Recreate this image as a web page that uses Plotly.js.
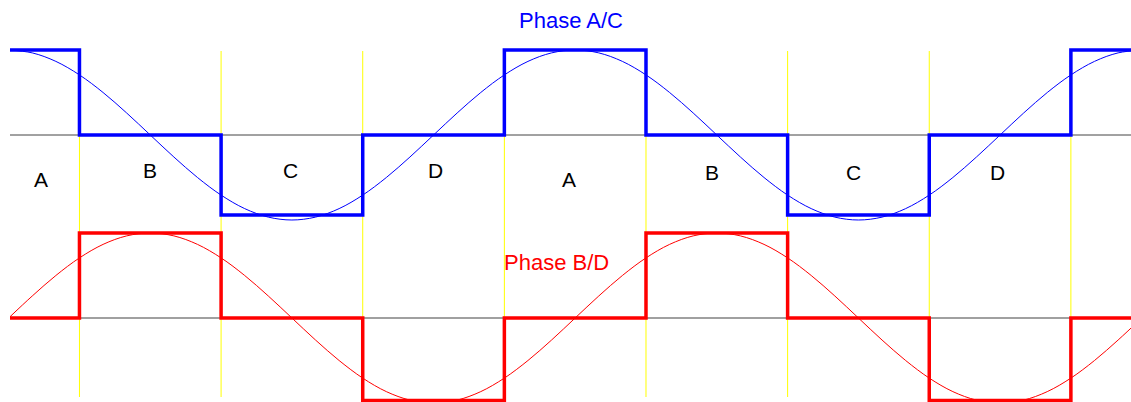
<!DOCTYPE html>
<html>
<head>
<meta charset="utf-8">
<script src="https://cdn.plot.ly/plotly-3.0.1.min.js"></script>
<style>html,body{margin:0;padding:0;background:#fff;}#chart{width:1131px;height:402px;}</style>
</head>
<body>
<div id="chart"></div>
<script>
// Phase angle samples (degrees) for the smooth reference curves
var angles = [0,15,30,45,60,75,90,105,120,135,150,165,180,195,210,225,240,255,270,285,300,315,330,345,360,
              375,390,405,420,435,450,465,480,495,510,525,540,555,570,585,600,615,630,645,660,675,690,705,720];
// Phase A/C smooth curve (normalised to peak = 1)
var curveAC = [1,0.966,0.866,0.707,0.5,0.259,0,-0.259,-0.5,-0.707,-0.866,-0.966,-1,-0.966,-0.866,-0.707,-0.5,-0.259,0,0.259,0.5,0.707,0.866,0.966,1,
               0.966,0.866,0.707,0.5,0.259,0,-0.259,-0.5,-0.707,-0.866,-0.966,-1,-0.966,-0.866,-0.707,-0.5,-0.259,0,0.259,0.5,0.707,0.866,0.966,1];
// Phase B/D smooth curve
var curveBD = [0,0.259,0.5,0.707,0.866,0.966,1,0.966,0.866,0.707,0.5,0.259,0,-0.259,-0.5,-0.707,-0.866,-0.966,-1,-0.966,-0.866,-0.707,-0.5,-0.259,0,
               0.259,0.5,0.707,0.866,0.966,1,0.966,0.866,0.707,0.5,0.259,0,-0.259,-0.5,-0.707,-0.866,-0.966,-1,-0.966,-0.866,-0.707,-0.5,-0.259,0];
// Step boundaries (degrees) and drive levels
var stepAngles = [0,45,135,225,315,405,495,585,675,720];
var driveAC = [1,0,-0.94,0,1,0,-0.94,0,1,1];
var driveBD = [0,1,0,-0.97,0,1,0,-0.97,0,0];
// Sector boundaries (yellow lines)
var sectorBounds = [45,135,225,315,405,495,585,675];
// Sector labels
var sectorLabels = ['A','B','C','D','A','B','C','D'];
var sectorLabelX = [20.6,89.8,179.2,271.1,356.1,447.2,536.6,628.5];
var phaseTitles = ['Phase A/C','Phase B/D'];

// layout placement (not data)
var PX = 85;                 // pixels per unit
var BASE_AC = 0;
var BASE_BD = -(318-135)/PX;
function yFromPx(p){ return (135-p)/PX; }
var sectorLabelYpx = [179,170.5,170.5,170.5,179,172,172,172];

function off(arr, b){ return arr.map(function(v){return v+b;}); }

var traces = [
  {x: angles, y: off(curveAC, BASE_AC), mode:'lines', line:{color:'#0000ff', width:1, shape:'spline', smoothing:1}, hoverinfo:'skip'},
  {x: stepAngles, y: off(driveAC, BASE_AC), mode:'lines', line:{color:'#0000ff', width:3.5, shape:'hv'}, hoverinfo:'skip'},
  {x: angles, y: off(curveBD, BASE_BD), mode:'lines', line:{color:'#ff0000', width:1, shape:'spline', smoothing:1}, hoverinfo:'skip'},
  {x: stepAngles, y: off(driveBD, BASE_BD), mode:'lines', line:{color:'#ff0000', width:3.5, shape:'hv'}, hoverinfo:'skip'}
];

var shapes = [];
sectorBounds.forEach(function(b){
  shapes.push({type:'line', layer:'below', xref:'x', yref:'y', x0:b, x1:b, y0:yFromPx(51), y1:yFromPx(397), line:{color:'#ffff00', width:1}});
});
shapes.push({type:'line', layer:'below', xref:'paper', yref:'y', x0:0, x1:1, y0:BASE_AC, y1:BASE_AC, line:{color:'#444444', width:1}});
shapes.push({type:'line', layer:'below', xref:'paper', yref:'y', x0:0, x1:1, y0:BASE_BD, y1:BASE_BD, line:{color:'#808080', width:1.5}});

var font = 'Liberation Sans, Arial, Helvetica, sans-serif';
var annotations = [];
sectorLabels.forEach(function(t,i){
  annotations.push({x: sectorLabelX[i], y: yFromPx(sectorLabelYpx[i]), xref:'x', yref:'y', text:t, showarrow:false,
    xanchor:'center', yanchor:'middle', font:{family:font, size:21, color:'#000'}});
});
annotations.push({x:357.2, y:yFromPx(20), xref:'x', yref:'y', text:phaseTitles[0], showarrow:false, xanchor:'center', yanchor:'middle',
  font:{family:font, size:22, color:'#0000ff'}});
annotations.push({x:348.2, y:yFromPx(262), xref:'x', yref:'y', text:phaseTitles[1], showarrow:false, xanchor:'center', yanchor:'middle',
  font:{family:font, size:22, color:'#ff0000'}});

var layout = {
  width:1131, height:402,
  margin:{l:10, r:0, t:0, b:0, pad:0},
  paper_bgcolor:'#ffffff', plot_bgcolor:'#ffffff',
  showlegend:false,
  xaxis:{range:[0.86,713.2], visible:false, fixedrange:true},
  yaxis:{range:[yFromPx(402), yFromPx(0)], visible:false, fixedrange:true},
  shapes:shapes, annotations:annotations
};
Plotly.newPlot('chart', traces, layout, {staticPlot:true, displayModeBar:false});
</script>
</body>
</html>
